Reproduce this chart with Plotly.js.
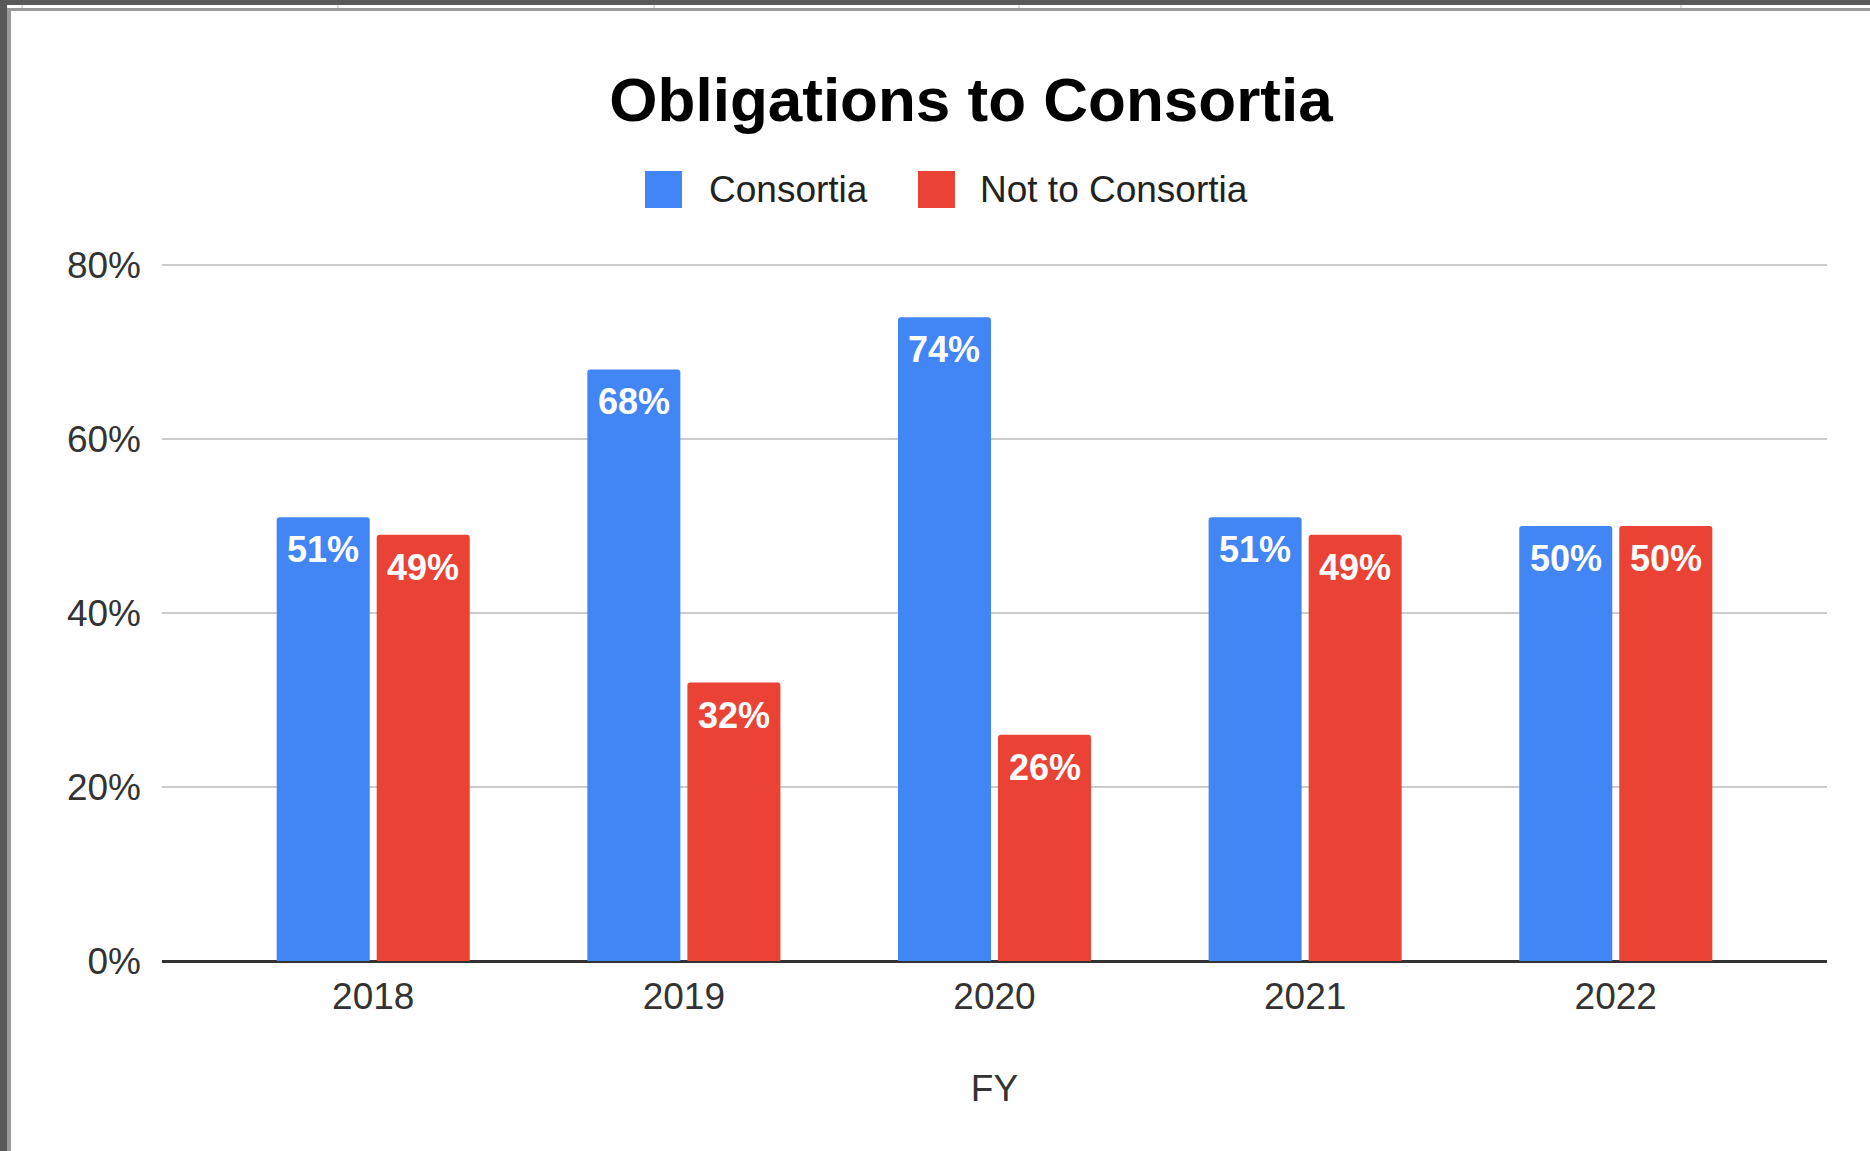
<!DOCTYPE html>
<html>
<head>
<meta charset="utf-8">
<script src="https://cdn.plot.ly/plotly-3.0.1.min.js"></script>
<style>
  html, body { margin: 0; padding: 0; background: #ffffff; overflow: hidden; }
  #chart { position: absolute; left: 0; top: 0; width: 1870px; height: 1151px; }
  .frame { position: absolute; z-index: 10; }
</style>
</head>
<body>
<div id="chart"></div>
<div class="frame" style="left:0;top:0;width:1870px;height:5px;background:#595959"></div>
<div class="frame" style="left:0;top:0;width:7px;height:1151px;background:#595959"></div>
<div class="frame" style="left:7px;top:8px;width:1863px;height:3px;background:#9a9a9a"></div>
<div class="frame" style="left:7px;top:8px;width:4px;height:1143px;background:#9a9a9a"></div>
<div class="frame" style="left:21px;top:5px;width:2px;height:3px;background:#dcdcdc"></div>
<div class="frame" style="left:337px;top:5px;width:2px;height:3px;background:#dcdcdc"></div>
<div class="frame" style="left:653px;top:5px;width:2px;height:3px;background:#dcdcdc"></div>
<div class="frame" style="left:1018px;top:5px;width:2px;height:3px;background:#dcdcdc"></div>
<div class="frame" style="left:1680px;top:5px;width:2px;height:3px;background:#dcdcdc"></div>
<script>
// ---- data ----
const years = ['2018', '2019', '2020', '2021', '2022'];
const consortia = [0.51, 0.68, 0.74, 0.51, 0.50];
const notConsortia = [0.49, 0.32, 0.26, 0.49, 0.50];
const seriesNames = ['Consortia', 'Not to Consortia'];
const seriesColors = ['#4285F4', '#EA4335'];
const chartTitle = 'Obligations to Consortia';
const xTitle = 'FY';

// ---- layout geometry (pixels) ----
const W = 1870, H = 1151;
const M = { l: 162, r: 43, t: 260, b: 190 };
const PW = W - M.l - M.r, PH = H - M.t - M.b;
const FONT = '"Liberation Sans", Arial, Helvetica, sans-serif';
const bargap = 0.356;
const bargroupgap = 0.07;
const pxPerUnit = 870; // 0.8 spans 696 px
const yMax = PH / pxPerUnit; // a little above 0.8 so the 80% gridline is drawn

function px2paperX(px) { return (px - M.l) / PW; }
function px2paperY(py) { return (H - M.b - py) / PH; }

const seriesValues = [consortia, notConsortia];
const traces = seriesValues.map((vals, k) => ({
  type: 'bar',
  name: seriesNames[k],
  x: years,
  y: vals,
  marker: { color: seriesColors[k] },
  hoverinfo: 'x+y+name'
}));

// value labels inside bar tops (positioned from the data via the axis scales)
const annotations = [];
const half = (1 - bargap) / 4;
seriesValues.forEach((vals, k) => {
  vals.forEach((v, i) => {
    annotations.push({
      xref: 'x', yref: 'y',
      x: i + (k === 0 ? -half : half),
      y: v,
      text: Math.round(v * 100) + '%',
      showarrow: false,
      xanchor: 'center', yanchor: 'top',
      yshift: -10,
      font: { family: FONT, size: 36, color: '#ffffff', weight: 'bold' }
    });
  });
});

// legend (large square swatches)
const legendItems = [
  { sx0: 645, sx1: 682, tx: 707 },
  { sx0: 918, sx1: 955, tx: 978 }
];
const shapes = [];
legendItems.forEach((it, k) => {
  shapes.push({
    type: 'rect', xref: 'paper', yref: 'paper',
    x0: px2paperX(it.sx0), x1: px2paperX(it.sx1),
    y0: px2paperY(208), y1: px2paperY(171),
    fillcolor: seriesColors[k], line: { width: 0 }
  });
  annotations.push({
    xref: 'paper', yref: 'paper',
    x: px2paperX(it.tx), y: px2paperY(189),
    xanchor: 'left', yanchor: 'middle',
    text: seriesNames[k], showarrow: false,
    font: { family: FONT, size: 37, color: '#222222' }
  });
});

const layout = {
  width: W, height: H,
  margin: M,
  paper_bgcolor: '#ffffff',
  plot_bgcolor: '#ffffff',
  showlegend: false,
  barmode: 'group',
  bargap: bargap,
  bargroupgap: bargroupgap,
  barcornerradius: 3,
  title: {
    text: '<b>' + chartTitle + '</b>',
    font: { family: FONT, size: 62, color: '#000000' },
    xref: 'container', x: 971 / W,
    yref: 'container', y: 1 - 99 / H,
    xanchor: 'center', yanchor: 'middle'
  },
  xaxis: {
    type: 'category',
    range: [-0.68, 4.68],
    showgrid: false,
    showline: false,
    zeroline: false,
    ticks: '',
    ticklabelstandoff: 10,
    tickfont: { family: FONT, size: 37, color: '#333333' },
    title: {
      text: xTitle,
      font: { family: FONT, size: 37, color: '#333333' },
      standoff: 59
    }
  },
  yaxis: {
    range: [0, yMax],
    dtick: 0.2,
    tick0: 0,
    tickformat: '.0%',
    showgrid: true,
    gridcolor: '#cccccc',
    gridwidth: 2,
    zeroline: true,
    zerolinecolor: '#333333',
    zerolinewidth: 3,
    showline: false,
    ticks: '',
    ticklabelstandoff: 20,
    tickfont: { family: FONT, size: 37, color: '#333333' }
  },
  shapes: shapes,
  annotations: annotations
};

Plotly.newPlot('chart', traces, layout, { displayModeBar: false, responsive: false });
</script>
</body>
</html>
